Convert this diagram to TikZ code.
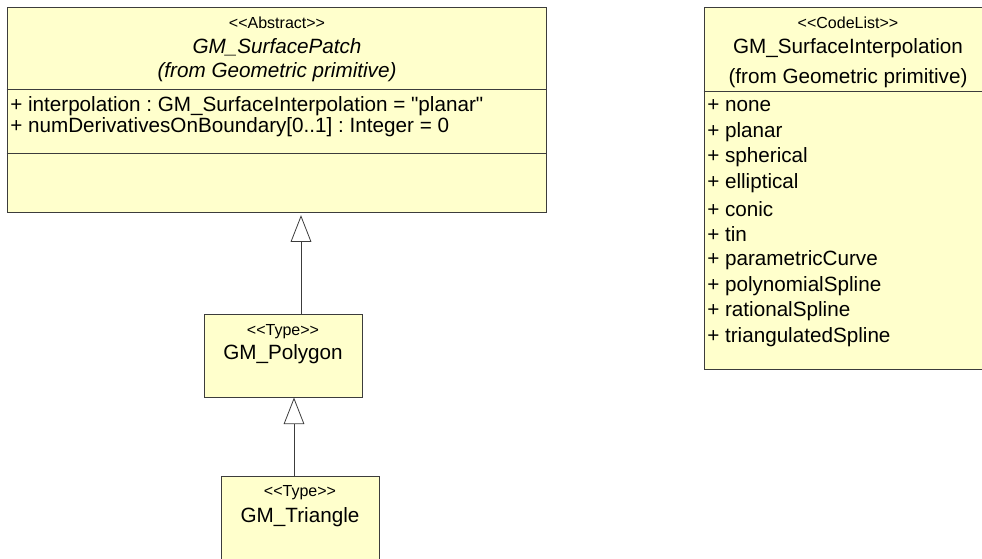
\documentclass[tikz,border=0pt]{standalone}
\usepackage{fontspec}
\setmainfont{Liberation Sans}[Ligatures=TeXOff]
\usepackage{xcolor}
\usepackage{tikz}
\usetikzlibrary{positioning,fit,arrows.meta}
\frenchspacing

\definecolor{boxfill}{RGB}{255,255,204}
\definecolor{boxline}{RGB}{60,60,60}

\tikzset{
	umlbox/.style={draw=boxline, fill=boxfill, line width=0.7pt, inner sep=0pt},
	stereo/.style={font=\fontsize{12}{14}\selectfont, inner sep=0pt},
	cname/.style={font=\fontsize{15.5}{18}\selectfont, inner sep=0pt},
	attr/.style={anchor=west, font=\fontsize{15.5}{18}\selectfont, inner sep=0pt},
	gen/.style={draw=boxline, line width=0.6pt, -{Triangle[open, length=20pt, width=15.5pt]}}
}

\begin{document}
\begin{tikzpicture}[x=0.75pt, y=-0.75pt]
	\useasboundingbox (0,0) rectangle (982,558);

	% Klassen
	\node[umlbox, fit={(7,7) (546,212)}] (patch) {};
	\node[umlbox, fit={(704,7) (992,369)}] (interp) {};
	\node[umlbox, fit={(204,314) (362,397)}] (poly) {};
	\node[umlbox, fit={(221,476) (379,575)}] (tri) {};

	% Trennlinien
	\draw[boxline, line width=0.7pt] (patch.west |- 0,89) -- (patch.east |- 0,89);
	\draw[boxline, line width=0.7pt] (patch.west |- 0,153) -- (patch.east |- 0,153);
	\draw[boxline, line width=0.7pt] (interp.west |- 0,91) -- (interp.east |- 0,91);

	% GM_SurfacePatch
	\node[stereo] (patchst) at (277,23) {<<Abstract>>};
	\node[cname] (patchnm) at (277,47) {\itshape GM\_SurfacePatch};
	\node[cname] (patchfr) at (277,72) {\itshape (from Geometric primitive)};
	\node[attr] (patcha1) at (10,106) {+ interpolation : GM\_SurfaceInterpolation = "planar"};
	\node[attr] (patcha2) at (10,127) {+ numDerivativesOnBoundary[0..1] : Integer = 0};

	% GM_SurfaceInterpolation
	\node[stereo] (interpst) at (848,23) {<<CodeList>>};
	\node[cname] (interpnm) at (848,48) {GM\_SurfaceInterpolation};
	\node[cname] (interpfr) at (848,78) {(from Geometric primitive)};
	\foreach \i/\lit in {
		0/none, 1/planar, 2/spherical, 3/elliptical, 4/conic,
		5/tin, 6/parametricCurve, 7/polynomialSpline,
		8/rationalSpline, 9/triangulatedSpline
	}{
		\node[attr] (lit\i) at (707,106+25.7*\i) {+ \lit};
	}

	% GM_Polygon, GM_Triangle
	\node[stereo] (polyst) at (283,332) {<<Type>>};
	\node[cname] (polynm) at (283,354) {GM\_Polygon};
	\node[stereo] (trist) at (300,493) {<<Type>>};
	\node[cname] (trinm) at (300,517) {GM\_Triangle};

	% Generalisierung
	\coordinate (g1) at (301,0);
	\coordinate (g2) at (294,0);
	\draw[gen] (poly.north -| g1) -- ([yshift=-2pt]patch.south -| g1);
	\draw[gen] (tri.north -| g2) -- (poly.south -| g2);
\end{tikzpicture}
\end{document}
